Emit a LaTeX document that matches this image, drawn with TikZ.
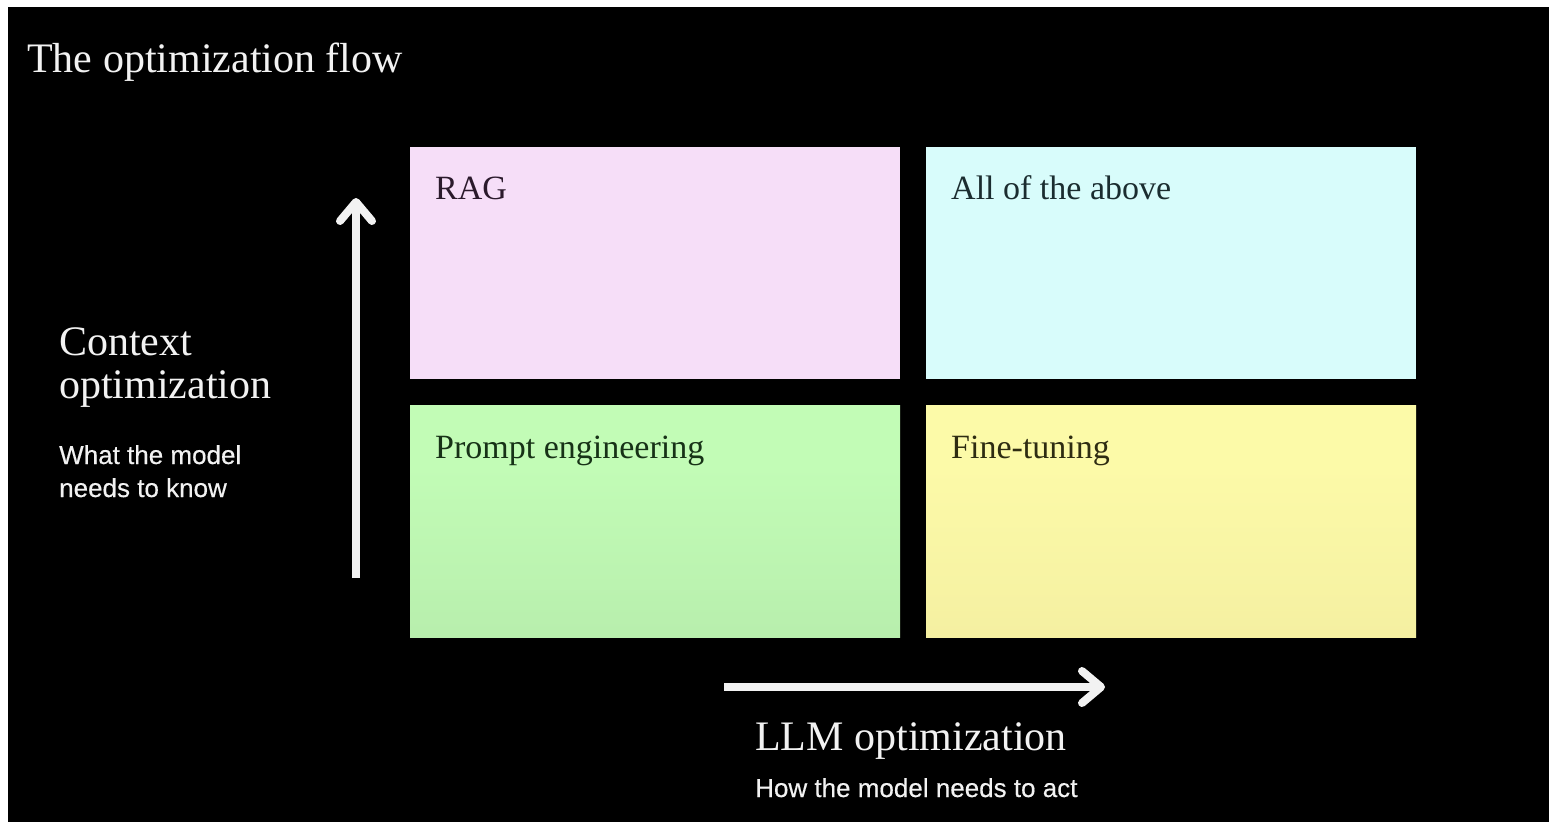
\documentclass[tikz,border=0pt]{standalone}
\usepackage{fontspec}
\setmainfont{Liberation Serif}
\setsansfont[FakeBold=0.4]{Liberation Sans}
\usetikzlibrary{arrows.meta}

\definecolor{ink}{HTML}{F2F2F2}
\definecolor{pinkfill}{HTML}{F6DEF8}
\definecolor{cyanfill}{HTML}{D8FCFB}
\definecolor{greentop}{HTML}{C2FCB6}
\definecolor{greenbot}{HTML}{B0E4A6}
\definecolor{yellowtop}{HTML}{FCFAA8}
\definecolor{yellowbot}{HTML}{EFE89C}
\definecolor{pinkink}{HTML}{2B1A2C}
\definecolor{cyanink}{HTML}{1B2D30}
\definecolor{greenink}{HTML}{173217}
\definecolor{yellowink}{HTML}{2E2C12}

% flat in the upper part, fading slightly towards the bottom edge
\pgfdeclareverticalshading{greenfade}{100bp}{color(0bp)=(greenbot); color(38bp)=(greenbot!35!greentop); color(62bp)=(greentop); color(100bp)=(greentop)}
\pgfdeclareverticalshading{yellowfade}{100bp}{color(0bp)=(yellowbot); color(38bp)=(yellowbot!35!yellowtop); color(62bp)=(yellowtop); color(100bp)=(yellowtop)}

\tikzset{
  quad/.style={draw=none, rectangle, inner sep=0pt, anchor=north west,
    minimum width=490pt, minimum height=232pt},
  quadlabel/.style={anchor=base west, inner sep=0pt,
    font=\fontsize{34}{38}\selectfont},
  headtext/.style={anchor=base west, inner sep=0pt, text=ink,
    font=\fontsize{42}{46}\selectfont},
  subtext/.style={anchor=base west, inner sep=0pt, text=ink,
    font=\sffamily\fontsize{26}{30}\selectfont},
  axis/.style={draw=ink, line width=8pt,
    -{Straight Barb[length=19pt, width=32pt, line cap=round, line join=round]}}
}

\begin{document}
\begin{tikzpicture}[x=1pt, y=-1pt]
  % page and dark slide
  \useasboundingbox (0,0) rectangle (1549,822);
  \fill[white] (0,0) rectangle (1549,822);
  \fill[black] (8,7) rectangle (1549,822);

  % title
  \node[headtext] (title) at (27,72) {The optimization flow};

  % the four quadrants
  \node[quad, fill=pinkfill] (rag) at (410,147) {};
  \node[quad, fill=cyanfill] (all) at (926,147) {};
  \node[quad, shading=greenfade] (prompt) at (410,405) {};
  \node[quad, shading=yellowfade] (fine) at (926,405) {};

  \node[quadlabel, text=pinkink] (ragT) at ([shift={(25,52)}]rag.north west) {RAG};
  \node[quadlabel, text=cyanink] (allT) at ([shift={(25,52)}]all.north west) {All of the above};
  \node[quadlabel, text=greenink] (promptT) at ([shift={(25,53)}]prompt.north west) {Prompt engineering};
  \node[quadlabel, text=yellowink] (fineT) at ([shift={(25,53)}]fine.north west) {Fine-tuning};

  % vertical axis
  \coordinate (vlow) at (356,578);
  \coordinate (vhigh) at (356,198);
  \draw[axis] (vlow) -- (vhigh);

  \node[headtext] (ctxA) at (59,355) {Context};
  \node[headtext] (ctxB) at (59,398) {optimization};
  \node[subtext] (ctxC) at (59,464) {What the model};
  \node[subtext] (ctxD) at (59,497) {needs to know};

  % horizontal axis
  \coordinate (hlow) at (724,687);
  \coordinate (hhigh) at (1105,687);
  \draw[axis] (hlow) -- (hhigh);

  \node[headtext] (llmA) at (755,750) {LLM optimization};
  \node[subtext] (llmB) at (755,797) {How the model needs to act};
\end{tikzpicture}
\end{document}
